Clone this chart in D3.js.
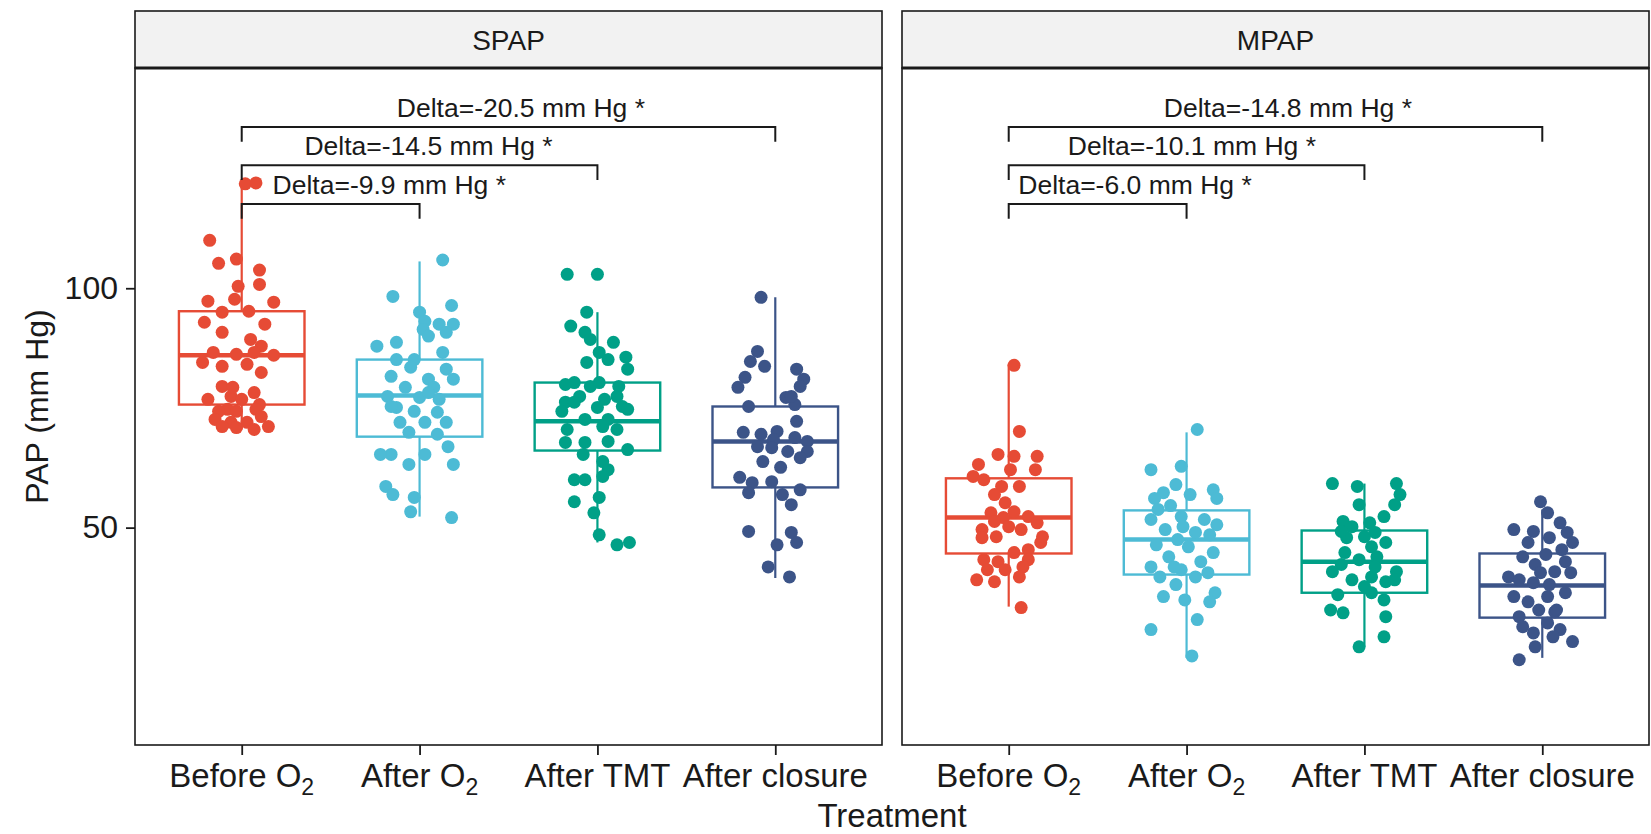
<!DOCTYPE html>
<html>
<head>
<meta charset="utf-8">
<script src="https://cdn.jsdelivr.net/npm/d3@7"></script>
<style>
  body { margin: 0; background: #fff; }
</style>
</head>
<body>
<div id="chart"></div>
<script>
// ---- data ----
var categories = ["Before O2", "After O2", "After TMT", "After closure"];
var tickLabels = [["Before O", "2"], ["After O", "2"], ["After TMT", ""], ["After closure", ""]];
var facets = ["SPAP", "MPAP"];
var yTicks = [50, 100];

// box stats per category: [q1, median, q3, whisker low, whisker high]
var spapBoxes = [
    [75.7, 86.0, 95.2, 70.5, 121.3],
    [69.0, 77.6, 85.1, 52.3, 105.6],
    [66.1, 72.2, 80.3, 46.9, 95.0],
    [58.4, 68.0, 75.3, 39.5, 98.1]
];
var mpapBoxes = [
    [44.6, 52.1, 60.3, 33.5, 84.1],
    [40.2, 47.5, 53.6, 22.8, 69.9],
    [36.4, 42.9, 49.4, 25.1, 59.2],
    [31.2, 37.9, 44.6, 22.8, 53.8]
];

// jittered points: [value, jitter in category units]
var spapBefore = [[121.8, 0.02], [122.0, 0.08], [110.0, -0.18], [105.2, -0.13], [106.1, -0.03], [103.8, 0.10],
    [100.4, -0.02], [100.8, 0.10], [97.7, -0.04], [97.1, 0.18], [97.3, -0.19], [95.0, -0.11], [95.2, 0.04],
    [92.5, 0.13], [92.9, -0.21], [90.8, -0.11], [89.3, 0.05], [87.9, 0.11], [86.6, -0.16], [86.2, -0.03],
    [86.6, 0.07], [86.0, 0.18], [84.5, -0.22], [83.7, -0.11], [84.1, 0.03], [82.4, 0.11], [79.5, -0.11],
    [77.4, -0.06], [76.8, -0.19], [78.2, 0.07], [75.7, 0.10], [74.7, -0.08], [79.3, -0.05], [76.8, 0.00],
    [74.3, -0.13], [74.3, -0.03], [74.7, 0.08], [73.2, 0.11], [72.6, -0.15], [72.0, -0.06], [72.0, 0.03],
    [71.1, 0.15], [71.1, -0.11], [70.9, -0.03], [70.5, 0.07]];
var spapAfterO2 = [[105.9, 0.13], [98.3, -0.15], [96.4, 0.18], [95.0, 0.00], [93.1, 0.03], [92.5, 0.11],
    [92.5, 0.19], [91.4, 0.02], [90.8, 0.15], [90.0, 0.05], [88.7, -0.13], [87.9, -0.24], [86.6, 0.13],
    [85.1, -0.03], [85.1, -0.13], [83.1, 0.15], [83.5, -0.05], [81.6, -0.16], [81.0, 0.05], [81.0, 0.19],
    [79.3, -0.08], [79.3, 0.08], [77.4, -0.18], [77.2, 0.00], [76.8, 0.11], [75.1, -0.13], [78.2, 0.05],
    [75.3, -0.16], [74.3, -0.03], [74.1, 0.10], [72.0, -0.11], [72.0, 0.03], [72.0, 0.15], [69.9, -0.06],
    [69.5, 0.10], [66.9, 0.16], [65.3, -0.16], [65.3, -0.22], [65.3, 0.03], [63.2, 0.19], [63.2, -0.06],
    [58.6, -0.19], [56.9, -0.15], [56.3, -0.03], [53.3, -0.05], [52.1, 0.18]];
var spapAfterTMT = [[102.9, -0.17], [102.9, 0.00], [95.0, -0.06], [92.1, -0.15], [90.8, -0.07], [89.3, -0.04],
    [88.7, 0.09], [86.6, 0.01], [85.1, 0.06], [85.6, 0.16], [84.5, -0.06], [83.1, 0.17], [80.3, -0.13],
    [80.3, 0.01], [79.5, 0.12], [77.4, -0.10], [76.8, 0.04], [76.2, -0.18], [75.3, 0.14], [79.9, -0.18],
    [79.5, -0.04], [77.4, 0.11], [76.2, -0.13], [74.3, -0.20], [75.1, 0.00], [74.7, 0.17], [72.6, -0.07],
    [72.6, 0.06], [70.5, -0.17], [71.1, 0.03], [70.5, 0.11], [67.8, -0.18], [67.8, -0.07], [68.0, 0.06],
    [66.3, 0.17], [65.3, -0.08], [63.8, 0.03], [62.1, 0.06], [60.0, -0.13], [60.0, -0.07], [60.7, 0.03],
    [56.3, 0.01], [55.4, -0.13], [53.1, -0.02], [48.5, 0.01], [46.4, 0.11], [46.9, 0.18]];
var spapAfterClosure = [[98.1, -0.08], [86.8, -0.10], [84.7, -0.14], [83.7, -0.06], [83.1, 0.12], [81.4, -0.17],
    [81.0, 0.16], [79.3, -0.21], [77.2, 0.06], [75.7, 0.11], [75.3, -0.15], [79.5, 0.14], [77.4, 0.09],
    [72.2, 0.12], [70.1, 0.01], [69.9, -0.18], [69.5, -0.08], [68.4, -0.01], [68.8, 0.11], [68.0, 0.18],
    [66.9, -0.10], [66.7, -0.02], [65.9, 0.07], [65.9, 0.18], [64.6, 0.14], [63.8, -0.07], [62.6, 0.03],
    [60.5, -0.20], [59.4, -0.13], [59.6, -0.02], [57.9, 0.14], [57.3, -0.15], [56.9, 0.04], [54.8, 0.09],
    [49.2, -0.15], [49.0, 0.09], [46.9, 0.12], [46.4, 0.01], [41.8, -0.04], [39.7, 0.08]];

var mpapBefore = [[83.9, 0.03], [70.1, 0.06], [65.3, -0.06], [64.9, 0.03], [64.9, 0.16], [63.2, -0.17],
    [62.1, 0.15], [60.7, -0.20], [60.0, -0.14], [58.6, -0.04], [58.6, 0.06], [56.9, -0.08], [55.2, -0.02],
    [53.3, 0.03], [53.1, -0.10], [52.3, 0.11], [52.1, -0.03], [51.0, 0.16], [49.6, -0.15], [49.6, 0.07],
    [48.1, -0.07], [46.9, 0.18], [45.4, 0.11], [43.3, -0.14], [44.8, 0.03], [42.9, -0.06], [43.3, 0.11],
    [41.2, -0.12], [41.2, -0.02], [41.8, 0.08], [39.1, -0.18], [38.7, -0.08], [39.7, 0.06], [33.3, 0.07],
    [48.1, 0.19], [47.9, -0.15], [50.2, 0.00], [51.3, -0.08], [62.1, 0.01]];
var mpapAfterO2 = [[70.5, 0.06], [62.1, -0.20], [62.8, -0.03], [59.0, -0.06], [57.3, -0.13], [56.9, 0.02],
    [57.9, 0.15], [56.1, -0.18], [56.1, 0.17], [54.6, -0.09], [51.7, -0.20], [52.3, -0.03], [51.7, 0.10],
    [50.6, 0.17], [49.6, -0.12], [49.0, 0.05], [48.5, 0.13], [47.5, -0.05], [46.4, -0.17], [46.0, 0.01],
    [44.8, 0.15], [43.9, -0.10], [42.9, 0.08], [41.8, -0.20], [41.2, -0.03], [39.7, -0.15], [39.7, 0.05],
    [40.6, 0.12], [38.1, -0.06], [36.4, 0.16], [35.6, -0.13], [34.9, -0.01], [34.5, 0.13], [28.7, -0.20],
    [30.8, 0.06], [23.2, 0.03], [41.8, -0.07], [50.2, -0.02], [53.8, -0.16]];
var mpapAfterTMT = [[59.2, -0.18], [58.6, -0.04], [59.2, 0.18], [56.9, 0.20], [54.8, -0.03], [54.8, 0.17],
    [52.3, 0.11], [51.3, -0.12], [51.0, 0.03], [50.2, -0.07], [48.1, 0.00], [46.9, 0.12], [46.0, 0.04],
    [44.8, -0.11], [43.3, -0.03], [43.9, 0.07], [42.3, -0.13], [40.8, -0.18], [40.8, 0.18], [39.7, 0.04],
    [39.1, -0.07], [38.7, 0.12], [39.1, 0.17], [37.7, 0.00], [36.0, -0.15], [36.4, 0.04], [34.9, 0.11],
    [32.8, -0.19], [32.2, -0.12], [31.4, 0.12], [27.2, 0.11], [25.1, -0.03], [41.8, 0.06], [47.9, -0.10],
    [49.0, 0.06], [49.2, -0.13]];
var mpapAfterClosure = [[55.4, -0.01], [53.1, 0.03], [49.6, -0.16], [49.2, -0.05], [49.0, 0.14], [51.0, 0.10],
    [46.9, 0.17], [46.9, -0.08], [47.9, 0.04], [45.4, 0.11], [43.9, -0.11], [44.4, 0.02], [42.9, 0.13],
    [42.3, -0.04], [40.8, 0.07], [39.7, -0.19], [39.1, -0.13], [38.5, -0.05], [38.1, 0.04], [40.6, 0.16],
    [35.6, -0.16], [34.5, -0.08], [35.6, 0.03], [36.4, 0.13], [32.8, -0.02], [32.4, 0.07], [31.4, -0.13],
    [30.1, 0.03], [28.7, 0.10], [28.0, -0.05], [29.3, -0.11], [26.2, 0.17], [27.2, 0.06], [25.1, -0.04],
    [22.4, -0.13], [40.6, -0.01], [32.8, 0.08]];

// significance brackets: from/to category index, bracket height, label centre (category units)
var spapBrackets = [
    {from: 0, to: 1, y: 117.6, labelAt: 0.83, label: "Delta=-9.9 mm Hg *"},
    {from: 0, to: 2, y: 125.7, labelAt: 1.05, label: "Delta=-14.5 mm Hg *"},
    {from: 0, to: 3, y: 133.7, labelAt: 1.57, label: "Delta=-20.5 mm Hg *"}
];
var mpapBrackets = [
    {from: 0, to: 1, y: 117.6, labelAt: 0.71, label: "Delta=-6.0 mm Hg *"},
    {from: 0, to: 2, y: 125.7, labelAt: 1.03, label: "Delta=-10.1 mm Hg *"},
    {from: 0, to: 3, y: 133.7, labelAt: 1.57, label: "Delta=-14.8 mm Hg *"}
];

var colors = ["#E64B35", "#4DBBD5", "#00A087", "#3C5488"];

var panelData = [
    {name: facets[0], boxes: spapBoxes, points: [spapBefore, spapAfterO2, spapAfterTMT, spapAfterClosure], brackets: spapBrackets},
    {name: facets[1], boxes: mpapBoxes, points: [mpapBefore, mpapAfterO2, mpapAfterTMT, mpapAfterClosure], brackets: mpapBrackets}
];

// ---- layout ----
var width = 1651, height = 834;
var panelLeft = [135, 902];
var panelW = 747;
var stripTop = 11, panelTop = 68, panelBottom = 745;
var font = "'Liberation Sans', Arial, Helvetica, sans-serif";

var svg = d3.select("#chart").append("svg")
    .attr("width", width)
    .attr("height", height)
    .style("font-family", font);

var y = d3.scaleLinear().domain([4.6, 146]).range([panelBottom, panelTop]);

var x = d3.scalePoint().domain(categories).range([0, panelW]).padding(0.6);
var step = x.step();
var boxHalf = step * 0.353;
var tip = 3.1;

panelData.forEach(function (p, pi) {
    var g = svg.append("g").attr("transform", "translate(" + panelLeft[pi] + ",0)");

    // strip
    g.append("rect")
        .attr("x", 0).attr("y", stripTop)
        .attr("width", panelW).attr("height", panelTop - stripTop)
        .attr("fill", "#f2f2f2")
        .attr("stroke", "#1a1a1a")
        .attr("stroke-width", 1.6);
    g.append("text")
        .attr("x", panelW / 2).attr("y", 50)
        .attr("text-anchor", "middle")
        .attr("font-size", 28)
        .attr("fill", "#1a1a1a")
        .text(p.name);

    // boxes
    categories.forEach(function (c, i) {
        var b = p.boxes[i];
        var cx = x(c);
        var bg = g.append("g").attr("stroke", colors[i]);
        bg.append("line")
            .attr("x1", cx).attr("x2", cx)
            .attr("y1", y(b[4])).attr("y2", y(b[3]))
            .attr("stroke-width", 2.2);
        bg.append("rect")
            .attr("x", cx - boxHalf).attr("width", boxHalf * 2)
            .attr("y", y(b[2])).attr("height", y(b[0]) - y(b[2]))
            .attr("fill", "#fff")
            .attr("stroke-width", 2.4);
        bg.append("line")
            .attr("x1", cx - boxHalf).attr("x2", cx + boxHalf)
            .attr("y1", y(b[1])).attr("y2", y(b[1]))
            .attr("stroke-width", 4.5);
    });

    // jittered points
    categories.forEach(function (c, i) {
        g.append("g").selectAll("circle")
            .data(p.points[i])
            .enter().append("circle")
            .attr("cx", function (d) { return x(c) + d[1] * step; })
            .attr("cy", function (d) { return y(d[0]); })
            .attr("r", 6.5)
            .attr("fill", colors[i]);
    });

    // brackets
    p.brackets.forEach(function (br) {
        var x1 = x(categories[br.from]), x2 = x(categories[br.to]);
        g.append("path")
            .attr("d", "M" + x1 + "," + y(br.y - tip) + "V" + y(br.y) + "H" + x2 + "V" + y(br.y - tip))
            .attr("fill", "none")
            .attr("stroke", "#1a1a1a")
            .attr("stroke-width", 2);
        g.append("text")
            .attr("x", x(categories[0]) + br.labelAt * step)
            .attr("y", y(br.y) - 10)
            .attr("text-anchor", "middle")
            .attr("font-size", 26.5)
            .attr("fill", "#1a1a1a")
            .text(br.label);
    });

    // panel border
    g.append("rect")
        .attr("x", 0).attr("y", panelTop)
        .attr("width", panelW).attr("height", panelBottom - panelTop)
        .attr("fill", "none")
        .attr("stroke", "#1a1a1a")
        .attr("stroke-width", 1.6);
    g.append("line")
        .attr("x1", 0).attr("x2", panelW)
        .attr("y1", panelTop).attr("y2", panelTop)
        .attr("stroke", "#1a1a1a")
        .attr("stroke-width", 3);

    // x axis ticks
    var xa = g.append("g")
        .attr("transform", "translate(0," + panelBottom + ")")
        .call(d3.axisBottom(x).tickSize(10).tickFormat(""));
    xa.select(".domain").remove();
    xa.selectAll(".tick line").attr("stroke", "#1a1a1a").attr("stroke-width", 1.8);

    categories.forEach(function (c, i) {
        var t = g.append("text")
            .attr("x", x(c)).attr("y", 787)
            .attr("text-anchor", "middle")
            .attr("font-size", 33)
            .attr("fill", "#1a1a1a");
        t.append("tspan").text(tickLabels[i][0]);
        if (tickLabels[i][1]) {
            t.append("tspan").attr("dy", 8).attr("font-size", 23).text(tickLabels[i][1]);
        }
    });

    // y axis only on first panel
    if (pi === 0) {
        var ya = g.append("g")
            .call(d3.axisLeft(y).tickValues(yTicks).tickSize(9).tickPadding(8));
        ya.select(".domain").remove();
        ya.selectAll(".tick line").attr("stroke", "#1a1a1a").attr("stroke-width", 1.8);
        ya.selectAll(".tick text")
            .attr("font-size", 32)
            .attr("font-family", font)
            .attr("fill", "#1a1a1a");
    }
});

// axis titles
svg.append("text")
    .attr("transform", "translate(48," + ((panelTop + panelBottom) / 2) + ") rotate(-90)")
    .attr("text-anchor", "middle")
    .attr("font-size", 32)
    .attr("fill", "#1a1a1a")
    .text("PAP (mm Hg)");

svg.append("text")
    .attr("x", (panelLeft[0] + panelLeft[1] + panelW) / 2)
    .attr("y", 827)
    .attr("text-anchor", "middle")
    .attr("font-size", 33)
    .attr("fill", "#1a1a1a")
    .text("Treatment");
</script>
</body>
</html>
